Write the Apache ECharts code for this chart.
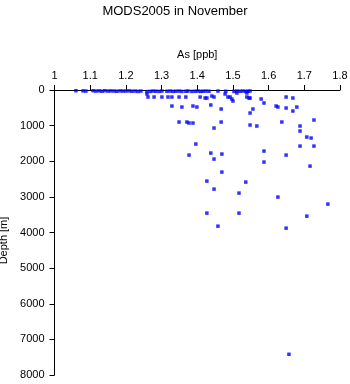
<!DOCTYPE html>
<html>
<head>
<meta charset="utf-8">
<script src="https://cdn.jsdelivr.net/npm/echarts@6/dist/echarts.min.js"></script>
<style>html,body{margin:0;padding:0;background:#fff}#c{width:350px;height:384px}</style>
</head>
<body>
<div id="c"></div>
<script>
var titleText = "MODS2005 in November";
var xName = "As [ppb]";
var yName = "Depth [m]";
var xTicks = [1, 1.1, 1.2, 1.3, 1.4, 1.5, 1.6, 1.7, 1.8];
var yTicks = [0, 1000, 2000, 3000, 4000, 5000, 6000, 7000, 8000];

// arsenic concentration [ppb]
var arsenic = [
  1.060, 1.080, 1.088, 1.108, 1.116, 1.125, 1.133, 1.141, 1.150, 1.158, 1.167, 1.175, 1.184, 1.192,
  1.200, 1.209, 1.217, 1.226, 1.234, 1.242, 1.259, 1.268, 1.276, 1.284, 1.293, 1.301,
  1.315, 1.324, 1.332, 1.340, 1.349, 1.357, 1.368, 1.374, 1.385, 1.394, 1.402, 1.410, 1.416,
  1.424, 1.433, 1.458, 1.480, 1.503, 1.511, 1.520, 1.528, 1.536, 1.542,
  1.259, 1.262, 1.279, 1.301, 1.318, 1.329, 1.349, 1.368, 1.408, 1.422, 1.427, 1.441, 1.447,
  1.478, 1.486, 1.492, 1.497, 1.511, 1.539, 1.545, 1.539, 1.548, 1.548, 1.579, 1.587,
  1.621, 1.626, 1.649, 1.668, 1.649, 1.679, 1.668, 1.637, 1.727, 1.556, 1.548, 1.500,
  1.467, 1.438, 1.329, 1.357, 1.388, 1.399, 1.349, 1.371, 1.377, 1.388, 1.467, 1.447,
  1.396, 1.377, 1.438, 1.469, 1.447, 1.469, 1.427, 1.447, 1.536, 1.517, 1.427, 1.517, 1.458,
  1.548, 1.567, 1.688, 1.688, 1.707, 1.719, 1.688, 1.727, 1.587, 1.649, 1.587, 1.716,
  1.626, 1.766, 1.707, 1.649, 1.657
];
// depth [m]
var depth = [
  20, 25, 30, 20, 30, 25, 35, 20, 30, 25, 30, 35, 25, 30,
  30, 25, 35, 30, 40, 30, 45, 40, 30, 35, 40, 30,
  35, 30, 40, 35, 30, 40, 35, 30, 40, 35, 30, 40, 35,
  30, 35, 30, 35, 40, 30, 35, 30, 40, 35,
  112, 197, 197, 197, 197, 197, 197, 197, 197, 225, 225, 169, 197,
  112, 197, 197, 253, 84, 197, 225, 84, 28, 225, 253, 365,
  450, 478, 197, 225, 506, 478, 590, 899, 843, 534, 646, 309,
  534, 421, 450, 478, 450, 478, 899, 899, 927, 927, 899, 1068,
  1517, 1827, 1770, 1798, 1939, 2304, 2557, 2782, 2585, 2894, 3456, 3456, 3822,
  983, 1011, 1011, 1152, 1320, 1349, 1574, 1574, 1714, 1827, 2023, 2136,
  3006, 3203, 3541, 3878, 7418
];

var pts = arsenic.map(function (a, i) { return [a, depth[i]]; });
var font = "Liberation Sans";
var chart = echarts.init(document.getElementById('c'), null, { renderer: 'canvas' });
chart.setOption({
  animation: false,
  backgroundColor: '#fff',
  title: {
    text: titleText, left: 'center', top: 0,
    textStyle: { fontFamily: font, fontSize: 13, fontWeight: 'normal', color: '#000' }
  },
  grid: { left: 54.5, right: 10, top: 90, bottom: 9, containLabel: false, outerBoundsMode: 'none' },
  xAxis: {
    type: 'value', position: 'top', min: xTicks[0], max: xTicks[xTicks.length - 1], interval: 0.1,
    name: xName, nameLocation: 'middle', nameGap: 30,
    nameTextStyle: { fontFamily: font, fontSize: 11, color: '#000' },
    axisLine: { show: true, onZero: false, lineStyle: { color: '#000', width: 1 } },
    axisTick: { show: true, inside: false, length: 5, lineStyle: { color: '#000' } },
    axisLabel: { fontFamily: font, fontSize: 11, color: '#000', margin: 9,
      formatter: function (v) { var r = Math.round(v * 10) / 10; return xTicks.indexOf(r) >= 0 ? String(r) : ''; } },
    splitLine: { show: false }
  },
  yAxis: {
    type: 'value', inverse: true, min: yTicks[0], max: yTicks[yTicks.length - 1], interval: 1000,
    name: yName, nameLocation: 'middle', nameGap: 36, nameRotate: 90,
    nameTextStyle: { fontFamily: font, fontSize: 11, color: '#000', padding: [0, 16, 0, 0] },
    axisLine: { show: true, onZero: false, lineStyle: { color: '#000', width: 1 } },
    axisTick: { show: true, inside: false, length: 5, lineStyle: { color: '#000' } },
    axisLabel: { fontFamily: font, fontSize: 11, color: '#000', margin: 10,
      formatter: function (v) { return String(v); } },
    splitLine: { show: false }
  },
  series: [{
    type: 'scatter', data: pts, symbol: 'rect', symbolSize: 3.5,
    itemStyle: { color: '#0000ff' }
  }]
});
</script>
</body>
</html>
